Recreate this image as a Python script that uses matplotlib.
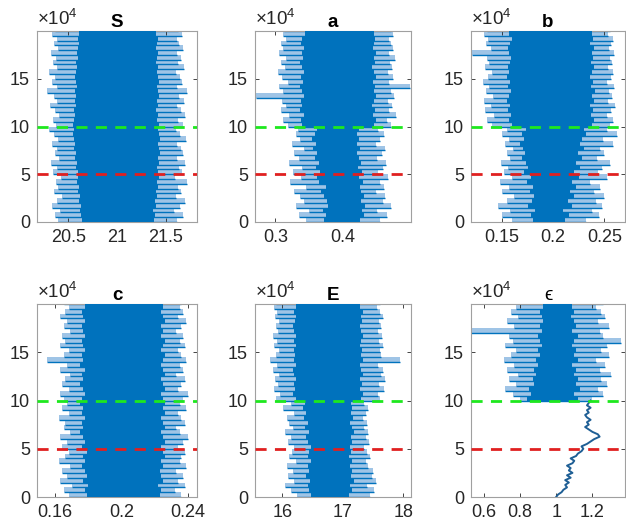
import matplotlib
matplotlib.use("Agg")
import matplotlib.pyplot as plt
import numpy as np

plt.rcParams['font.family'] = ['Liberation Sans', 'DejaVu Sans']
plt.rcParams['mathtext.fontset'] = 'custom'
plt.rcParams['mathtext.rm'] = 'Liberation Sans'
plt.rcParams['mathtext.it'] = 'Liberation Sans:italic'

# ---------------- data ----------------
titles = ["S", "a", "b", "c", "E", "\u03f5"]
iter_levels = list(range(0, 200001, 5000))          # 41 levels
eps_upper_levels = list(range(100000, 200001, 5000))  # 21 levels
eps_lower_iter = list(range(0, 100001, 2500))         # 41 points

xlims = [(20.18, 21.82), (0.27, 0.50), (0.12, 0.27), (0.149, 0.2455), (15.55, 18.13), (0.53, 1.38)]
xticks = [[20.5, 21, 21.5], [0.3, 0.4], [0.15, 0.2, 0.25], [0.16, 0.2, 0.24], [16, 17, 18], [0.6, 0.8, 1, 1.2]]
xticklabels = [["20.5", "21", "21.5"], ["0.3", "0.4"], ["0.15", "0.2", "0.25"], ["0.16", "0.2", "0.24"],
               ["16", "17", "18"], ["0.6", "0.8", "1", "1.2"]]
yticks = [0, 50000, 100000, 150000]
yticklabels = ["0", "5", "10", "15"]
burnin_1 = 50000
burnin_2 = 100000

S_core_lo = [20.64,20.63,20.62,20.63,20.61,20.62,20.60,20.61,20.59,20.60,20.60,20.58,20.59,20.57,20.58,20.56,20.57,20.56,20.55,20.56,20.55,20.56,20.57,20.56,20.58,20.57,20.58,20.57,20.59,20.58,20.57,20.58,20.59,20.58,20.60,20.59,20.60,20.61,20.60,20.61,20.62]
S_core_hi = [21.38,21.39,21.37,21.40,21.39,21.41,21.40,21.42,21.41,21.43,21.42,21.41,21.43,21.42,21.44,21.43,21.42,21.44,21.43,21.42,21.43,21.41,21.42,21.40,21.42,21.41,21.43,21.42,21.41,21.43,21.42,21.41,21.42,21.40,21.41,21.42,21.40,21.41,21.42,21.40,21.41]
S_out_lo = [20.40,20.36,20.42,20.33,20.38,20.44,20.35,20.40,20.37,20.43,20.34,20.39,20.32,20.41,20.36,20.38,20.33,20.40,20.35,20.30,20.37,20.34,20.41,20.36,20.31,20.39,20.35,20.28,20.38,20.33,20.36,20.30,20.39,20.34,20.37,20.32,20.40,20.35,20.38,20.33,20.36]
S_out_hi = [21.62,21.68,21.58,21.65,21.70,21.60,21.66,21.63,21.72,21.59,21.67,21.64,21.70,21.61,21.68,21.66,21.62,21.71,21.65,21.60,21.68,21.63,21.70,21.66,21.61,21.69,21.64,21.72,21.62,21.67,21.65,21.60,21.69,21.63,21.66,21.61,21.68,21.64,21.62,21.67,21.63]

a_core_lo = [0.372,0.375,0.370,0.378,0.376,0.372,0.368,0.374,0.365,0.362,0.366,0.360,0.364,0.358,0.362,0.356,0.360,0.354,0.358,0.362,0.340,0.338,0.342,0.336,0.340,0.338,0.342,0.339,0.337,0.341,0.338,0.342,0.340,0.337,0.341,0.339,0.342,0.338,0.340,0.343,0.341]
a_core_hi = [0.425,0.430,0.428,0.432,0.426,0.430,0.427,0.425,0.429,0.424,0.428,0.422,0.426,0.423,0.420,0.425,0.421,0.424,0.420,0.423,0.445,0.448,0.444,0.447,0.443,0.446,0.449,0.445,0.447,0.444,0.448,0.446,0.443,0.447,0.445,0.448,0.444,0.446,0.447,0.445,0.446]
a_out_lo = [0.345,0.335,0.350,0.330,0.342,0.336,0.328,0.345,0.322,0.338,0.326,0.340,0.320,0.335,0.328,0.342,0.325,0.336,0.330,0.334,0.318,0.312,0.320,0.308,0.315,0.310,0.272,0.312,0.306,0.318,0.310,0.304,0.314,0.309,0.316,0.305,0.312,0.308,0.315,0.311,0.313]
a_out_hi = [0.455,0.465,0.450,0.470,0.458,0.462,0.448,0.460,0.455,0.466,0.452,0.458,0.463,0.450,0.457,0.461,0.449,0.455,0.460,0.452,0.470,0.465,0.478,0.468,0.472,0.466,0.475,0.470,0.498,0.468,0.474,0.466,0.472,0.469,0.476,0.467,0.473,0.470,0.468,0.474,0.471]

b_core_lo = [0.180,0.178,0.182,0.176,0.179,0.181,0.177,0.180,0.175,0.178,0.172,0.176,0.174,0.170,0.173,0.171,0.168,0.172,0.170,0.174,0.160,0.157,0.159,0.156,0.158,0.155,0.157,0.159,0.156,0.158,0.155,0.157,0.156,0.158,0.159,0.157,0.156,0.158,0.160,0.157,0.158]
b_core_hi = [0.212,0.215,0.210,0.218,0.214,0.220,0.216,0.222,0.218,0.225,0.220,0.226,0.222,0.228,0.224,0.230,0.226,0.228,0.232,0.230,0.238,0.240,0.237,0.239,0.236,0.240,0.238,0.241,0.237,0.239,0.236,0.238,0.240,0.237,0.239,0.238,0.240,0.236,0.239,0.238,0.237]
b_out_lo = [0.160,0.150,0.158,0.146,0.155,0.162,0.150,0.157,0.148,0.160,0.152,0.156,0.149,0.158,0.155,0.161,0.153,0.157,0.150,0.155,0.140,0.136,0.142,0.134,0.139,0.133,0.141,0.135,0.138,0.132,0.137,0.140,0.134,0.138,0.136,0.121,0.139,0.135,0.137,0.133,0.136]
b_out_hi = [0.232,0.245,0.238,0.248,0.242,0.250,0.240,0.246,0.236,0.252,0.244,0.248,0.255,0.243,0.250,0.246,0.258,0.249,0.262,0.252,0.255,0.258,0.252,0.256,0.260,0.253,0.257,0.254,0.259,0.252,0.256,0.258,0.253,0.257,0.255,0.259,0.254,0.256,0.258,0.253,0.255]

c_core_lo = [0.179,0.178,0.180,0.177,0.179,0.178,0.176,0.178,0.177,0.179,0.176,0.178,0.177,0.175,0.177,0.176,0.178,0.176,0.177,0.175,0.176,0.178,0.177,0.175,0.177,0.176,0.178,0.175,0.177,0.176,0.178,0.177,0.176,0.178,0.177,0.176,0.178,0.177,0.176,0.178,0.177]
c_core_hi = [0.223,0.224,0.222,0.225,0.224,0.223,0.225,0.224,0.226,0.225,0.224,0.226,0.225,0.224,0.226,0.225,0.224,0.226,0.225,0.226,0.225,0.224,0.226,0.225,0.224,0.226,0.225,0.224,0.225,0.226,0.224,0.225,0.226,0.224,0.225,0.224,0.226,0.225,0.224,0.225,0.224]
c_out_lo = [0.168,0.165,0.170,0.163,0.167,0.164,0.169,0.162,0.166,0.168,0.164,0.167,0.163,0.169,0.165,0.166,0.162,0.168,0.164,0.167,0.165,0.163,0.168,0.164,0.166,0.169,0.163,0.167,0.155,0.165,0.168,0.163,0.166,0.164,0.169,0.165,0.167,0.163,0.166,0.168,0.165]
c_out_hi = [0.236,0.232,0.238,0.234,0.237,0.233,0.239,0.235,0.236,0.238,0.234,0.237,0.240,0.235,0.233,0.238,0.236,0.234,0.239,0.235,0.237,0.240,0.234,0.236,0.238,0.233,0.237,0.235,0.239,0.236,0.234,0.238,0.235,0.237,0.233,0.236,0.239,0.234,0.237,0.235,0.236]

E_core_lo = [16.48,16.45,16.42,16.46,16.40,16.44,16.42,16.47,16.43,16.45,16.48,16.42,16.40,16.45,16.38,16.42,16.36,16.40,16.35,16.38,16.22,16.18,16.21,16.19,16.23,16.20,16.18,16.22,16.19,16.21,16.20,16.23,16.19,16.22,16.20,16.18,16.21,16.23,16.20,16.22,16.21]
E_core_hi = [17.10,17.15,17.12,17.18,17.14,17.16,17.12,17.15,17.10,17.14,17.12,17.16,17.13,17.18,17.15,17.12,17.17,17.14,17.16,17.13,17.30,17.33,17.28,17.32,17.29,17.34,17.31,17.28,17.33,17.30,17.32,17.29,17.31,17.34,17.30,17.28,17.32,17.30,17.33,17.29,17.31]
E_out_lo = [16.25,16.15,16.05,16.20,16.10,16.18,16.08,16.22,16.12,16.16,16.20,16.10,16.15,16.05,16.18,16.12,16.08,16.20,16.02,16.14,15.90,15.96,15.86,15.93,15.88,15.95,15.84,15.92,15.80,15.90,15.94,15.87,15.91,15.85,15.93,15.89,15.95,15.88,15.92,15.86,15.90]
E_out_hi = [17.45,17.52,17.40,17.55,17.48,17.50,17.42,17.38,17.46,17.40,17.35,17.44,17.38,17.42,17.36,17.40,17.34,17.38,17.42,17.36,17.62,17.58,17.68,17.60,17.70,17.63,17.66,17.59,17.95,17.64,17.61,17.67,17.60,17.65,17.58,17.63,17.60,17.66,17.61,17.57,17.62]

eps_core_lo = [0.84,0.86,0.85,0.88,0.87,0.89,0.88,0.90,0.89,0.91,0.90,0.92,0.91,0.90,0.92,0.91,0.93,0.92,0.91,0.93,0.92]
eps_core_hi = [1.12,1.10,1.13,1.11,1.12,1.10,1.11,1.09,1.12,1.10,1.11,1.09,1.10,1.12,1.09,1.11,1.10,1.08,1.10,1.09,1.10]
eps_out_lo = [0.80,0.76,0.72,0.78,0.74,0.79,0.73,0.77,0.71,0.75,0.78,0.72,0.76,0.74,0.53,0.77,0.73,0.79,0.75,0.78,0.80]
eps_out_hi = [1.20,1.26,1.23,1.28,1.25,1.30,1.24,1.27,1.22,1.29,1.25,1.28,1.36,1.26,1.24,1.29,1.23,1.27,1.25,1.22,1.26]
eps_lower_trace = [1.00,1.01,1.03,1.04,1.06,1.05,1.07,1.05,1.08,1.06,1.09,1.07,1.08,1.06,1.09,1.10,1.08,1.11,1.12,1.14,
                   1.15,1.14,1.17,1.19,1.21,1.24,1.23,1.20,1.18,1.16,1.18,1.17,1.19,1.17,1.16,1.18,1.17,1.19,1.17,1.18,1.19]

# ---------------- figure ----------------
W, H = 626, 530
fig = plt.figure(figsize=(W / 100, H / 100), dpi=100)

col_l = [37, 255, 471]
col_w = [160, 156, 154]
row_t = [31, 304]
row_b = [222, 497]

BLUE = '#0072BD'
LIGHT = '#9fc4e6'
GRAY = '#262626'

envelopes = [
    (iter_levels, S_core_lo, S_core_hi, S_out_lo, S_out_hi),
    (iter_levels, a_core_lo, a_core_hi, a_out_lo, a_out_hi),
    (iter_levels, b_core_lo, b_core_hi, b_out_lo, b_out_hi),
    (iter_levels, c_core_lo, c_core_hi, c_out_lo, c_out_hi),
    (iter_levels, E_core_lo, E_core_hi, E_out_lo, E_out_hi),
    (eps_upper_levels, eps_core_lo, eps_core_hi, eps_out_lo, eps_out_hi),
]

for k in range(6):
    r, c = divmod(k, 3)
    left = col_l[c] / W
    bottom = 1 - row_b[r] / H
    width = col_w[c] / W
    height = (row_b[r] - row_t[r]) / H
    ax = fig.add_axes([left, bottom, width, height])

    yl, clo, chi, olo, ohi = envelopes[k]
    yl = np.array(yl, dtype=float)
    ax.fill_betweenx(yl, olo, ohi, step='post', color=LIGHT, lw=0, zorder=1)
    ax.hlines(yl, olo, ohi, color=BLUE, lw=1.0, zorder=2)
    ax.fill_betweenx(yl, clo, chi, step='post', color=BLUE, lw=0, zorder=3)
    if k == 5:
        ax.plot(eps_lower_trace, eps_lower_iter, color='#1f5f95', lw=1.4, zorder=3)

    ax.axhline(burnin_2, color='#1ee81e', lw=2.0, ls=(0, (4, 3)), zorder=5)
    ax.axhline(burnin_1, color='#e02020', lw=2.0, ls=(0, (4, 3)), zorder=5)

    ax.set_xlim(*xlims[k])
    ax.set_ylim(0, 200000)
    ax.set_xticks(xticks[k])
    ax.set_xticklabels(xticklabels[k])
    ax.set_yticks(yticks)
    ax.set_yticklabels(yticklabels)
    ax.tick_params(direction='in', length=3, width=0.6, colors=GRAY, labelsize=13,
                   top=True, right=True, pad=5)
    for sp in ax.spines.values():
        sp.set_color('#a0a0a0')
        sp.set_linewidth(0.8)

    bold = 'bold' if k < 5 else 'normal'
    ax.set_title(titles[k], fontsize=13.5, fontweight=bold, color='black', pad=3)
    ax.text(0.0, 1.012, r'$\times10^{4}$', transform=ax.transAxes, ha='left', va='bottom',
            fontsize=13.5, color=GRAY)

fig.savefig('out.png', dpi=100)
